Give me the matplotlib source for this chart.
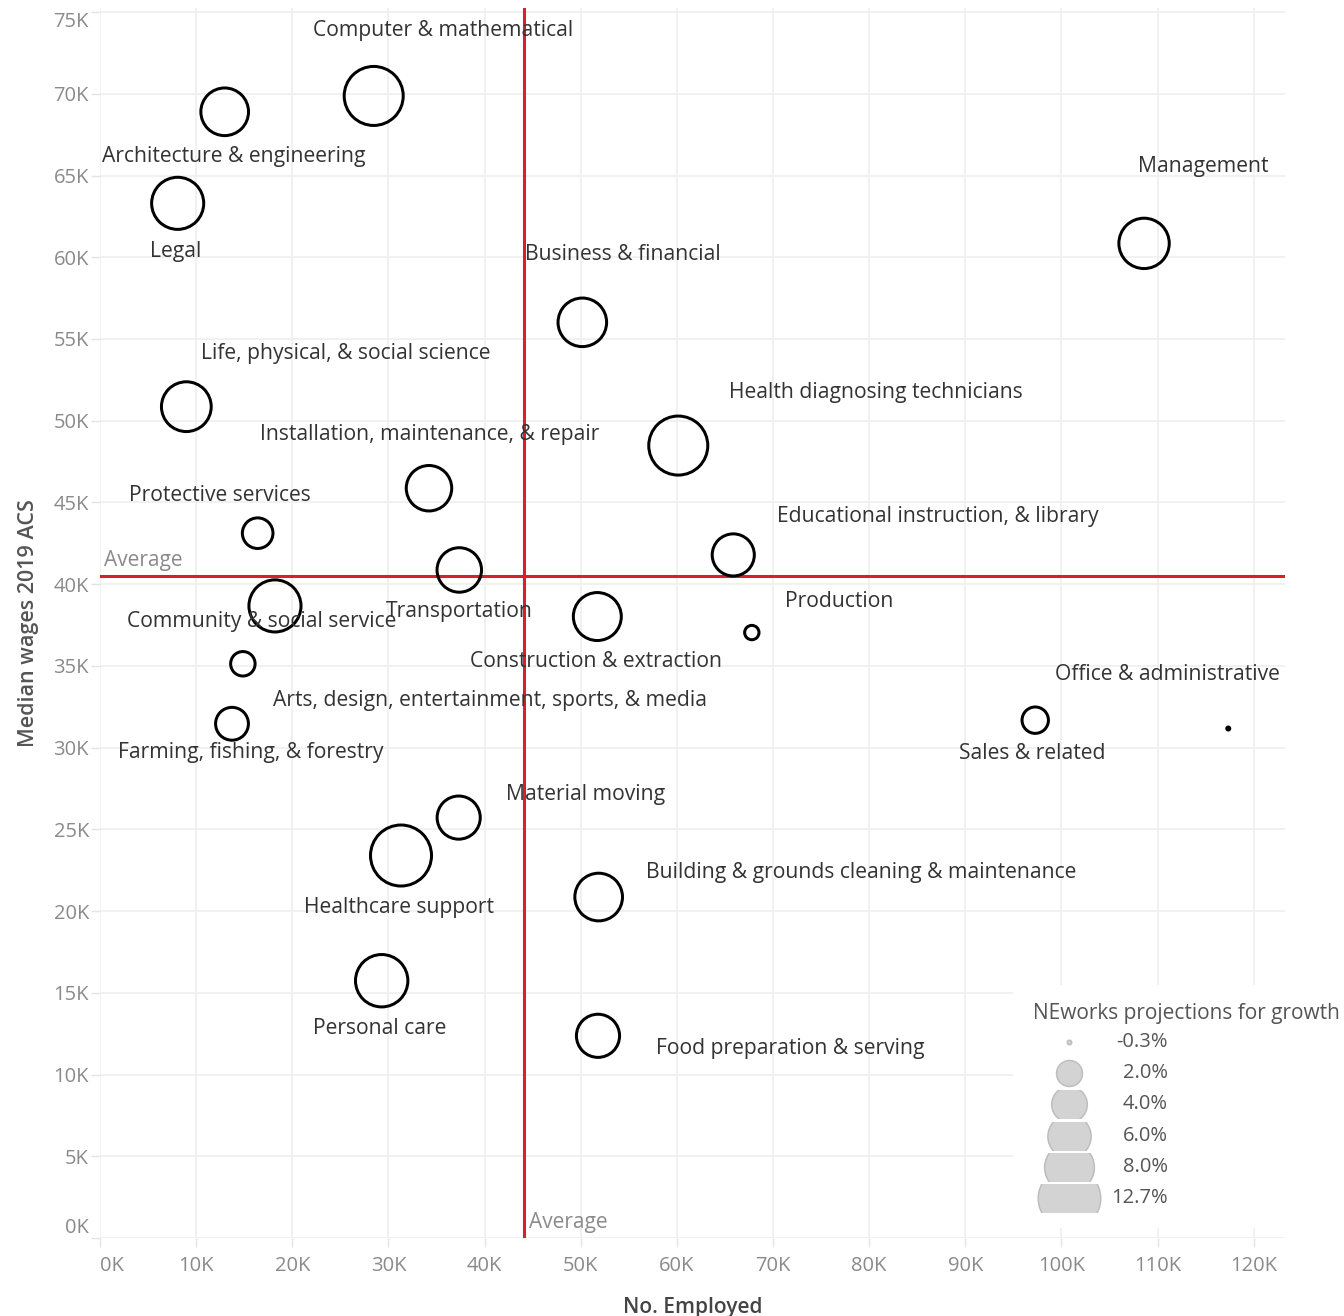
import numpy as np
import matplotlib
matplotlib.use("Agg")
import matplotlib.pyplot as plt
from matplotlib.ticker import FuncFormatter
from matplotlib.patches import Rectangle

plt.rcParams['font.family'] = ['Open Sans', 'DejaVu Sans']

occupations = [
    "Computer & mathematical", "Architecture & engineering", "Legal", "Management",
    "Business & financial", "Life, physical, & social science", "Health diagnosing technicians",
    "Installation, maintenance, & repair", "Protective services", "Educational instruction, & library",
    "Transportation", "Community & social service", "Construction & extraction", "Production",
    "Arts, design, entertainment, sports, & media", "Farming, fishing, & forestry",
    "Office & administrative", "Sales & related", "Material moving", "Healthcare support",
    "Building & grounds cleaning & maintenance", "Personal care", "Food preparation & serving",
]
employed = [28470, 12970, 8080, 108600, 50170, 8980, 60150, 34220, 16400, 65870,
            37370, 18200, 51730, 67800, 14860, 13730, 117360, 97280, 37310, 31310,
            51870, 29300, 51800]
median_wage = [69870, 68900, 63300, 60850, 56020, 50860, 48480, 45870, 43120, 41790,
               40870, 38670, 38020, 37040, 35130, 31460, 31170, 31680, 25720, 23400,
               20860, 15740, 12370]
growth = [11.9, 7.8, 9.3, 8.7, 8.1, 8.5, 11.9, 7.1, 3.2, 6.1,
          6.8, 9.3, 7.9, 0.55, 2.0, 3.7, -0.3, 2.35, 6.4, 12.7,
          7.8, 9.4, 6.4]

legend_values = [-0.3, 2.0, 4.0, 6.0, 8.0, 12.7]
legend_labels = ["-0.3%", "2.0%", "4.0%", "6.0%", "8.0%", "12.7%"]

# label offsets in pixels (dx right, dy down) from mark centre
label_offsets = [
    (69, -65), (9, 45), (-2, 48), (59, -77), (41, -68), (159, -53), (198, -53),
    (1, -54), (-38, -38), (205, -38), (0, 42), (-13, 16), (-1, 45), (87, -31),
    (247, 37), (19, 29), (-61, -54), (-3, 33), (127, -23), (-2, 52), (263, -25),
    (-2, 48), (192, 13),
]

W, H = 1344, 1316
DPI = 100
fig = plt.figure(figsize=(W / DPI, H / DPI), dpi=DPI)

L, R, T, B = 100, 1285, 8, 1238
ax = fig.add_axes([L / W, 1 - B / H, (R - L) / W, (B - T) / H])

PX2PT = 72.0 / DPI


def outer_radius_px(g):
    return np.sqrt(32.4 + 78.1 * np.asarray(g, dtype=float))


def marker_size(g, lw_px):
    d = 2 * outer_radius_px(g) - lw_px
    d = np.maximum(d, 1.0)
    return (d * PX2PT) ** 2


grid_c = "#efefef"
tick_c = "#8a8a8a"
ax.set_xlim(0, 123260)
ax.set_ylim(0, 75250)
ax.set_xticks(np.arange(0, 120001, 10000))
ax.set_yticks(np.arange(0, 75001, 5000))
ax.xaxis.set_major_formatter(FuncFormatter(lambda v, p: f"{int(round(v / 1000))}K"))
ax.yaxis.set_major_formatter(FuncFormatter(lambda v, p: f"{int(round(v / 1000))}K"))
ax.grid(True, color=grid_c, linewidth=1.2)
ax.set_axisbelow(True)
for s in ax.spines.values():
    s.set_visible(False)
ax.tick_params(axis='both', length=6.5, width=1, color="#e4e4e4", labelcolor=tick_c,
               labelsize=14.5)
ax.tick_params(axis='y', pad=1.5)
ax.tick_params(axis='x', pad=6.5)

fig.canvas.draw()
ylabels = ax.get_yticklabels()
ylabels[-1].set_va('top')
ylabels[0].set_va('bottom')
xlabels = ax.get_xticklabels()
xlabels[0].set_ha('left')

ax.set_xlabel("No. Employed", fontsize=15, color="#444444", fontweight='semibold', labelpad=15)
ax.set_ylabel("Median wages 2019 ACS", fontsize=15.5, color="#555555", fontweight='semibold',
              labelpad=10)

avg_x = np.mean(employed)
avg_y = np.mean(median_wage)
red = "#d7202a"
ax.axvline(avg_x, color=red, linewidth=2.2, zorder=2)
ax.axhline(avg_y, color=red, linewidth=2.2, zorder=2)
ax.annotate("Average", xy=(0, avg_y), xytext=(4 * PX2PT, 5 * PX2PT), textcoords='offset points',
            ha='left', va='bottom', fontsize=15, color=tick_c)
ax.annotate("Average", xy=(avg_x, 0), xytext=(5 * PX2PT, 5 * PX2PT), textcoords='offset points',
            ha='left', va='bottom', fontsize=15, color=tick_c)

ax.scatter(employed, median_wage, s=marker_size(growth, 3.0), facecolors='none',
           edgecolors='black', linewidths=3.0 * PX2PT, zorder=3)

for name, x, y, (dx, dy) in zip(occupations, employed, median_wage, label_offsets):
    ax.annotate(name, xy=(x, y), xytext=(dx * PX2PT, -dy * PX2PT), textcoords='offset points',
                ha='center', va='center', fontsize=15.2, color="#333333", zorder=4)

# legend panel
lx0, ly0, lx1, ly1 = 1013, 985, 1344, 1228
lax = fig.add_axes([lx0 / W, 1 - ly1 / H, (lx1 - lx0) / W, (ly1 - ly0) / H])
lax.set_xlim(lx0, lx1)
lax.set_ylim(ly1, ly0)
lax.axis('off')
lax.add_patch(Rectangle((lx0, ly0), lx1 - lx0, ly1 - ly0, color='white', zorder=0))
lax.text(1033, 1014, "NEworks projections for growth", ha='left', va='center',
         fontsize=15, color="#555555", clip_on=False)
ys = [1042, 1073, 1104, 1136, 1167, 1198]
half = 14.3
for y, v in zip(ys, legend_values):
    sc = lax.scatter([1069], [y], s=marker_size([v], 1.5), facecolors="#d3d3d3",
                     edgecolors="#bdbdbd", linewidths=1.5 * PX2PT, zorder=2)
    clip = Rectangle((lx0, y - half), lx1 - lx0, 2 * half, transform=lax.transData)
    sc.set_clip_path(clip)
for y, lab in zip(ys, legend_labels):
    lax.text(1168, y, lab, ha='right', va='center', fontsize=14.5, color="#555555")

fig.savefig("out.png", dpi=DPI, facecolor='white')
